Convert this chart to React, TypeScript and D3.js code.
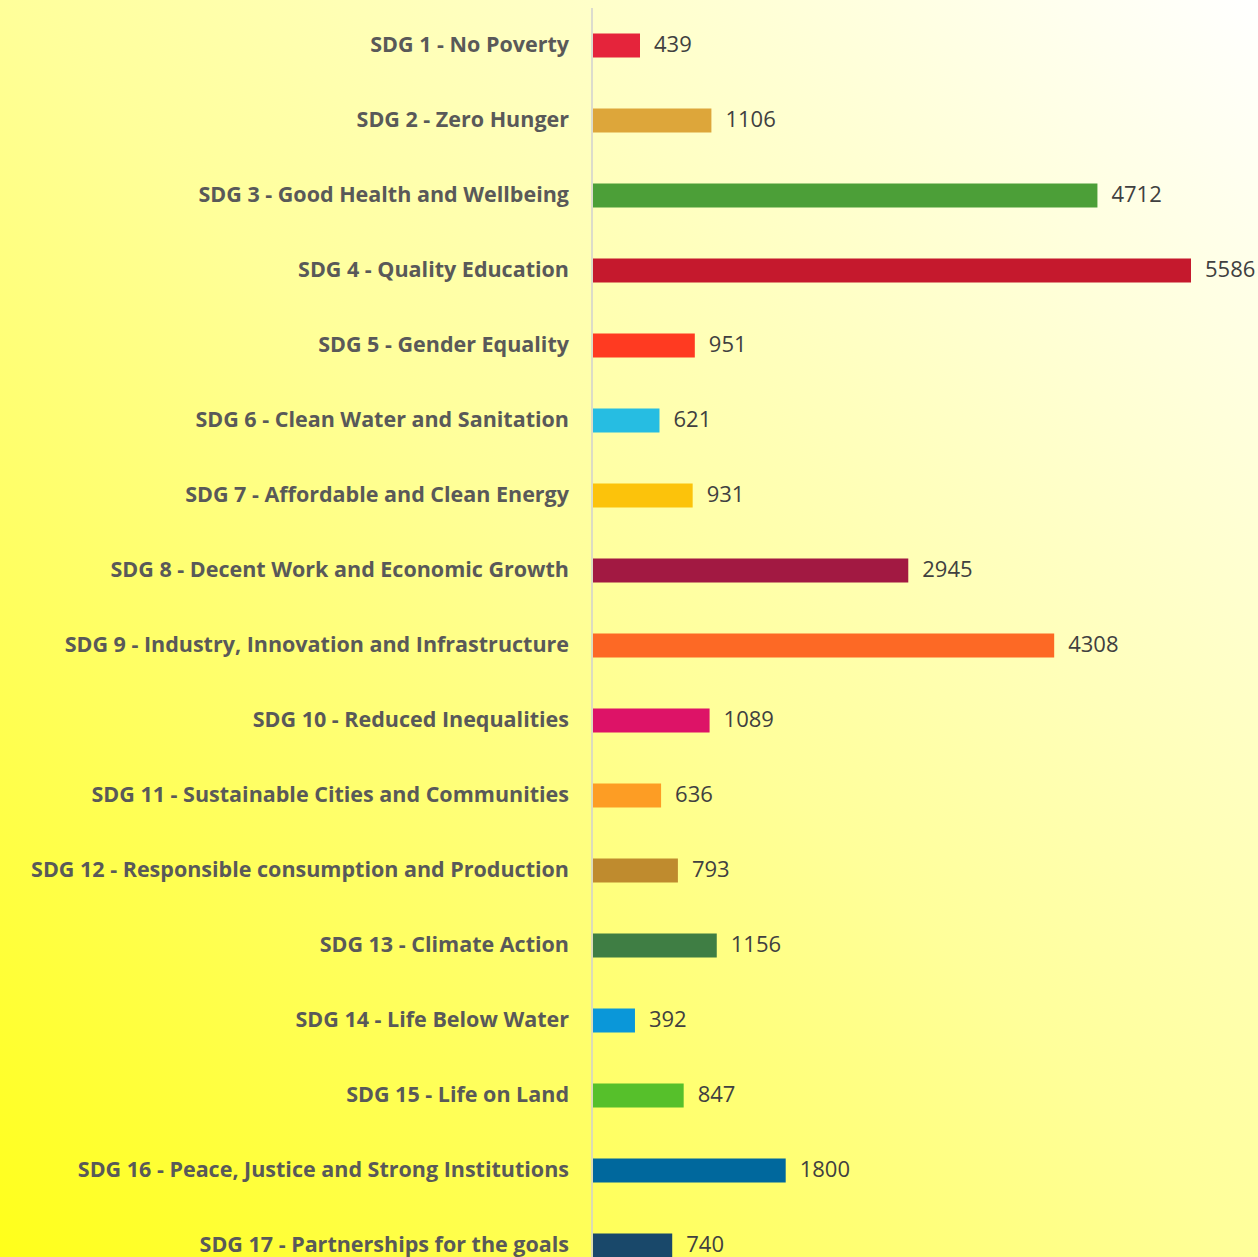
import React from "react";
import * as d3 from "d3";

const categories = [
  "SDG 1 - No Poverty",
  "SDG 2 - Zero Hunger",
  "SDG 3 - Good Health and Wellbeing",
  "SDG 4 - Quality Education",
  "SDG 5 - Gender Equality",
  "SDG 6 - Clean Water and Sanitation",
  "SDG 7 - Affordable and Clean Energy",
  "SDG 8 - Decent Work and Economic Growth",
  "SDG 9 - Industry, Innovation and Infrastructure",
  "SDG 10 - Reduced Inequalities",
  "SDG 11 - Sustainable Cities and Communities",
  "SDG 12 - Responsible consumption and Production",
  "SDG 13 - Climate Action",
  "SDG 14 - Life Below Water",
  "SDG 15 - Life on Land",
  "SDG 16 - Peace, Justice and Strong Institutions",
  "SDG 17 - Partnerships for the goals",
];

const values = [439, 1106, 4712, 5586, 951, 621, 931, 2945, 4308, 1089, 636, 793, 1156, 392, 847, 1800, 740];

const colors = [
  "#E5243B", "#DDA63A", "#4C9F38", "#C5192D", "#FF3A21", "#26BDE2", "#FCC30B", "#A21942",
  "#FD6925", "#DD1367", "#FD9D24", "#BF8B2E", "#3F7E44", "#0A97D9", "#56C02B", "#00689D", "#19486A",
];

const W = 1258;
const H = 1257;
const axisX = 592;

export default function App() {
  const x = d3.scaleLinear().domain([0, 5586]).range([axisX + 1, 1191]);
  const y = d3
    .scaleBand<string>()
    .domain(categories)
    .range([8, 8 + categories.length * 75])
    .paddingInner(0.68)
    .paddingOuter(0.34);

  return (
    <svg
      width={W}
      height={H}
      style={{ position: "absolute", left: 0, top: 0, display: "block" }}
    >
      <defs>
        <linearGradient id="bg" x1="0" y1={H} x2={W} y2="0" gradientUnits="userSpaceOnUse">
          <stop offset="0" stopColor="#FFFF1A" />
          <stop offset="0.5" stopColor="#FFFF9A" />
          <stop offset="1" stopColor="#FFFFFF" />
        </linearGradient>
      </defs>
      <rect x={0} y={0} width={W} height={H} fill="url(#bg)" />
      {categories.map((c, i) => {
        const yc = (y(c) as number) + y.bandwidth() / 2;
        return (
          <g key={c}>
            <rect
              x={x(0)}
              y={y(c)}
              width={x(values[i]) - x(0)}
              height={y.bandwidth()}
              fill={colors[i]}
            />
            <text
              x={569}
              y={yc - 1.5}
              dy="0.35em"
              textAnchor="end"
              fontFamily="'Open Sans', sans-serif"
              fontWeight={700}
              fontSize={21.5}
              fill="#595959"
            >
              {c}
            </text>
            <text
              x={x(values[i]) + 14}
              y={yc - 1.5}
              dy="0.35em"
              fontFamily="'Open Sans', sans-serif"
              fontSize={22}
              fill="#404040"
            >
              {values[i]}
            </text>
          </g>
        );
      })}
      <line x1={axisX} x2={axisX} y1={8} y2={H} stroke="#D0D0D0" strokeWidth={1.5} />
    </svg>
  );
}
